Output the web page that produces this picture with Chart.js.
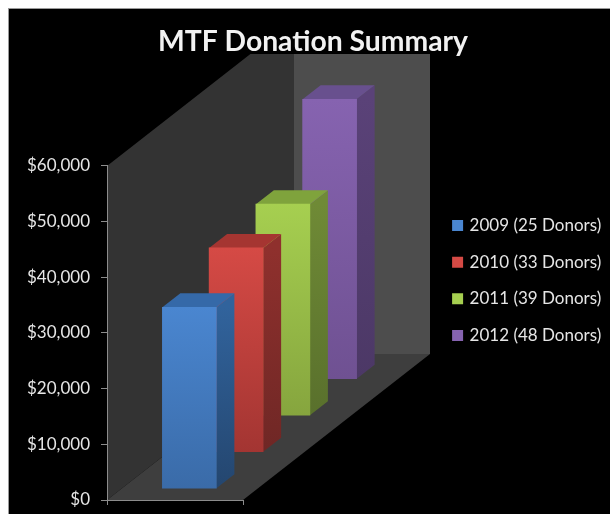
<!DOCTYPE html>
<html>
<head>
<meta charset="utf-8">
<title>MTF Donation Summary</title>
<script src="https://cdn.jsdelivr.net/npm/chart.js@4"></script>
<style>
  html, body { margin: 0; padding: 0; background: #fff; }
  canvas { display: block; }
</style>
</head>
<body>
<canvas id="chart" width="610" height="514"></canvas>
<script>
const categories = [""];
const seriesNames = ["2009 (25 Donors)", "2010 (33 Donors)", "2011 (39 Donors)", "2012 (48 Donors)"];
const donations = [32600, 36700, 38000, 50300];
const yTickLabels = ["$0", "$10,000", "$20,000", "$30,000", "$40,000", "$50,000", "$60,000"];

// front top, front bottom, side top, side bottom, top face
const colours = [
  ["#4a86d0", "#3a6ba8", "#31639c", "#24466f", "#3569a8"],
  ["#d54a45", "#a33532", "#8f302d", "#6f2725", "#a53531"],
  ["#a6cf50", "#86a53e", "#6f8a36", "#59702c", "#7fa33c"],
  ["#8663b0", "#6f5192", "#5a4278", "#4c3866", "#68508e"]
];

// how far the floor runs back, in pixels
const floorDx = 187, floorDy = 146;
const barDx = 18, barDy = 14;
const wallClipTop = 54;

const box3d = {
  id: "box3d",
  beforeDraw(chart) {
    const c = chart.ctx, x = chart.scales.x, y = chart.scales.y;
    const l = x.left, r = x.right, b = y.getPixelForValue(0), t = y.getPixelForValue(60000);
    c.save();
    c.fillStyle = "#fff";
    c.fillRect(0, 0, chart.width, chart.height);
    c.fillStyle = "#9a9a9a";
    c.fillRect(8, 8, chart.width - 8, chart.height - 8);
    c.fillStyle = "#000";
    c.fillRect(9, 9, chart.width - 9, chart.height - 9);

    c.beginPath();
    c.rect(0, wallClipTop, chart.width, chart.height);
    c.clip();
    // back wall
    c.fillStyle = "#4d4d4d";
    c.fillRect(l + floorDx, t - floorDy, r - l, b - t);
    // side wall
    c.fillStyle = "#333";
    poly(c, [[l, b], [l, t], [l + floorDx, t - floorDy], [l + floorDx, b - floorDy]]);
    // floor
    c.fillStyle = "#3e3e3e";
    poly(c, [[l, b], [r, b], [r + floorDx, b - floorDy], [l + floorDx, b - floorDy]]);
    c.restore();
  },
  afterDatasetsUpdate(chart) {
    // push each series back along the floor
    const n = chart.data.datasets.length;
    chart.data.datasets.forEach((ds, i) => {
      const el = chart.getDatasetMeta(i).data[0];
      const ox = (floorDx - n * barDx) / (2 * n) + i * floorDx / n;
      const oy = (floorDy - n * barDy) / (2 * n) + i * floorDy / n;
      el.x += ox;
      el.y -= oy;
      el.base -= oy;
    });
  },
  beforeDatasetDraw(chart, args) {
    const c = chart.ctx, el = args.meta.data[0], col = colours[args.index];
    const right = el.x + el.width / 2, left = el.x - el.width / 2;
    c.save();
    const g = c.createLinearGradient(0, el.y, 0, el.base);
    g.addColorStop(0, col[2]);
    g.addColorStop(1, col[3]);
    c.fillStyle = g;
    poly(c, [[right, el.y], [right + barDx, el.y - barDy], [right + barDx, el.base - barDy], [right, el.base]]);
    c.fillStyle = col[4];
    poly(c, [[left, el.y], [left + barDx, el.y - barDy], [right + barDx, el.y - barDy], [right, el.y]]);
    c.restore();
  },
  afterLayout(chart) {
    chart.legend.left = 434.5;
    chart.legend.right = 610;
    chart.legend.top = 197.5;
    chart.titleBlock.left = 0;
    chart.titleBlock.right = 626;
  }
};

function poly(c, pts) {
  c.beginPath();
  pts.forEach((p, i) => (i ? c.lineTo(p[0], p[1]) : c.moveTo(p[0], p[1])));
  c.closePath();
  c.fill();
}

function frontFill(i) {
  return ctx => {
    const chart = ctx.chart, y = chart.scales.y;
    const n = chart.data.datasets.length;
    const oy = (floorDy - n * barDy) / (2 * n) + i * floorDy / n;
    const top = y ? y.getPixelForValue(donations[i]) - oy : NaN;
    const bottom = y ? y.getPixelForValue(0) - oy : NaN;
    if (!isFinite(top) || !isFinite(bottom)) return colours[i][0];
    const g = chart.ctx.createLinearGradient(0, top, 0, bottom);
    g.addColorStop(0, colours[i][0]);
    g.addColorStop(1, colours[i][1]);
    return g;
  };
}

new Chart(document.getElementById("chart"), {
  type: "bar",
  data: {
    labels: categories,
    datasets: seriesNames.map((name, i) => ({
      label: name,
      data: [donations[i]],
      backgroundColor: frontFill(i),
      clip: false
    }))
  },
  options: {
    responsive: false,
    animation: false,
    events: [],
    grouped: false,
    barThickness: 54,
    layout: { padding: { left: 27, right: 307, bottom: 9 } },
    plugins: {
      title: {
        display: true,
        text: "MTF Donation Summary",
        color: "#f2f2f2",
        font: { family: "Lato", size: 28.3, weight: "bold" },
        padding: { top: 25, bottom: 107 }
      },
      legend: {
        position: "right",
        align: "start",
        maxWidth: 60,
        labels: {
          color: "#e6e6e6",
          font: { family: "Lato", size: 17 },
          usePointStyle: true,
          pointStyle: "rect",
          boxWidth: 7,
          boxHeight: 11,
          padding: 19.6,
          generateLabels(chart) {
            return Chart.defaults.plugins.legend.labels.generateLabels(chart).map((item, i) => {
              item.fillStyle = colours[i][0];
              item.lineWidth = 0;
              return item;
            });
          }
        }
      },
      tooltip: { enabled: false }
    },
    scales: {
      x: {
        offset: true,
        ticks: { display: false },
        grid: { drawOnChartArea: false, color: "#8c8c8c", tickLength: 5 },
        border: { color: "#8c8c8c" }
      },
      y: {
        min: 0,
        max: 60000,
        afterFit(scale) {
          scale.width = 80;
          scale.paddingTop = 0;
          scale.paddingBottom = 0;
        },
        ticks: {
          stepSize: 10000,
          color: "#e6e6e6",
          padding: 11,
          font: { family: "Lato", size: 17 },
          callback: (value, i) => yTickLabels[i]
        },
        grid: { drawOnChartArea: false, color: "#8c8c8c", tickLength: 6 },
        border: { color: "#8c8c8c" }
      }
    }
  },
  plugins: [box3d]
});
</script>
</body>
</html>
